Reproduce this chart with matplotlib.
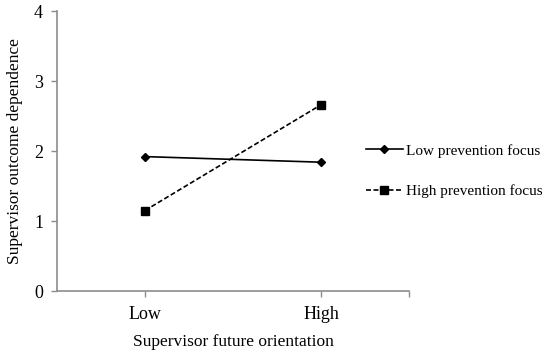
import matplotlib
matplotlib.use("Agg")
import matplotlib.pyplot as plt

categories = ["Low", "High"]
low_prev = [1.92, 1.84]
high_prev = [1.15, 2.66]
yticks = [0, 1, 2, 3, 4]

plt.rcParams['font.family'] = ['Liberation Serif', 'DejaVu Serif']
plt.rcParams['font.size'] = 12.5

fig = plt.figure(figsize=(5.5, 3.53), dpi=100)
ax = fig.add_axes([57/550, 62/353, 352/550, 280/353])

x = list(range(len(categories)))
ax.plot(x, low_prev, color='k', lw=1.2, marker='D', ms=4.5, label='Low prevention focus')
ax.plot(x, high_prev, color='k', lw=1.2, ls=(0, (3, 1.5)), marker='s', ms=6, label='High prevention focus')

ax.set_xlim(-0.5, 1.5)
ax.set_ylim(0, 4)
ax.set_xticks(x)
ax.set_xticklabels(categories)
ax.set_xticks([1.5], minor=True)
ax.set_yticks(yticks)

axcol = '#8c8c8c'
for s in ['top', 'right']:
    ax.spines[s].set_visible(False)
for s in ['left', 'bottom']:
    ax.spines[s].set_color(axcol)
    ax.spines[s].set_linewidth(1.2)
ax.tick_params(which='both', color=axcol, length=4, width=1, labelsize=13)
ax.tick_params(axis='y', pad=6)
ax.tick_params(axis='x', pad=7)

ax.set_xlabel('Supervisor future orientation', fontsize=12.5, labelpad=8)
ax.set_ylabel('Supervisor outcome dependence', fontsize=12.5, labelpad=8)

fig.legend(loc='center left', bbox_to_anchor=(366/550, 1 - 171/353), frameon=False,
           fontsize=11, handlelength=2.4, handletextpad=0.25, labelspacing=1.75,
           borderaxespad=0, borderpad=0)

fig.savefig('out.png', dpi=100)
